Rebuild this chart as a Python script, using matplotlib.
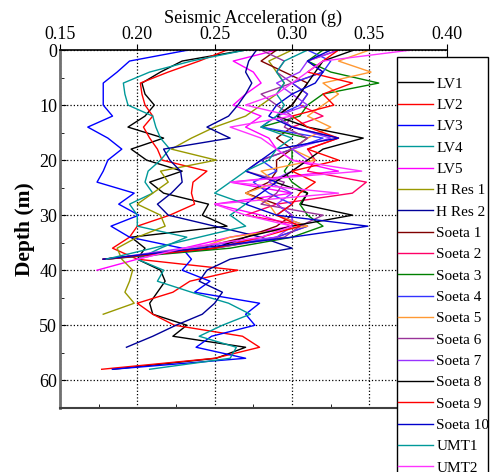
import matplotlib
matplotlib.use("Agg")
import matplotlib.pyplot as plt
from matplotlib.patches import Rectangle
from matplotlib.ticker import MultipleLocator

plt.rcParams['font.family'] = ['Liberation Serif', 'DejaVu Serif']

# depth profiles (m) and seismic acceleration (g) for each borehole
depth_long = list(range(0, 60, 2))      # 0 .. 58
depth_hres1 = list(range(0, 50, 2))     # 0 .. 48
depth_hres2 = list(range(0, 56, 2))     # 0 .. 54
depth_short = list(range(0, 40, 2))     # 0 .. 38
depth_lv5 = list(range(0, 42, 2))       # 0 .. 40

lv1 = [0.270, 0.229, 0.215, 0.203, 0.205, 0.211, 0.205, 0.194, 0.217, 0.196,
       0.206, 0.229, 0.208, 0.217, 0.246, 0.242, 0.258, 0.196, 0.205, 0.200,
       0.215, 0.218, 0.213, 0.208, 0.210, 0.232, 0.223, 0.270, 0.251, 0.184]
lv2 = [0.258, 0.240, 0.220, 0.202, 0.203, 0.205, 0.210, 0.204, 0.208, 0.213,
       0.216, 0.245, 0.236, 0.235, 0.237, 0.221, 0.200, 0.195, 0.184, 0.200,
       0.265, 0.234, 0.223, 0.200, 0.210, 0.224, 0.268, 0.279, 0.250, 0.177]
lv3 = [0.233, 0.195, 0.187, 0.178, 0.178, 0.178, 0.184, 0.168, 0.181, 0.190,
       0.181, 0.178, 0.174, 0.198, 0.188, 0.201, 0.183, 0.195, 0.229, 0.235,
       0.229, 0.247, 0.237, 0.279, 0.270, 0.276, 0.248, 0.238, 0.270, 0.184]
lv4 = [0.270, 0.235, 0.208, 0.191, 0.192, 0.194, 0.210, 0.212, 0.215, 0.221,
       0.215, 0.207, 0.205, 0.210, 0.195, 0.200, 0.200, 0.232, 0.215, 0.200,
       0.217, 0.213, 0.235, 0.259, 0.273, 0.255, 0.240, 0.264, 0.260, 0.208]
lv5 = [0.290, 0.262, 0.275, 0.280, 0.270, 0.262, 0.280, 0.270, 0.285, 0.290,
       0.300, 0.330, 0.260, 0.300, 0.250, 0.280, 0.300, 0.260, 0.230, 0.200,
       0.174]
hres1 = [0.300, 0.285, 0.290, 0.295, 0.290, 0.280, 0.270, 0.250, 0.235, 0.222,
         0.251, 0.215, 0.220, 0.210, 0.200, 0.215, 0.218, 0.200, 0.187, 0.190,
         0.197, 0.195, 0.192, 0.198, 0.178]
hres2 = [0.277, 0.272, 0.270, 0.274, 0.270, 0.265, 0.259, 0.245, 0.260, 0.217,
         0.221, 0.228, 0.229, 0.222, 0.213, 0.220, 0.250, 0.280, 0.300, 0.260,
         0.245, 0.240, 0.255, 0.250, 0.242, 0.225, 0.210, 0.193]
soeta1 = [0.290, 0.280, 0.295, 0.310, 0.305, 0.300, 0.290, 0.300, 0.290, 0.300,
          0.290, 0.290, 0.285, 0.270, 0.290, 0.300, 0.290, 0.270, 0.240, 0.180]
soeta2 = [0.330, 0.310, 0.320, 0.300, 0.310, 0.305, 0.320, 0.300, 0.330, 0.310,
          0.315, 0.310, 0.348, 0.339, 0.290, 0.270, 0.310, 0.290, 0.250, 0.180]
soeta3 = [0.320, 0.310, 0.325, 0.356, 0.320, 0.310, 0.305, 0.280, 0.310, 0.300,
          0.300, 0.295, 0.300, 0.310, 0.305, 0.310, 0.320, 0.300, 0.260, 0.180]
soeta4 = [0.310, 0.325, 0.320, 0.300, 0.310, 0.305, 0.290, 0.280, 0.320, 0.300,
          0.280, 0.290, 0.275, 0.285, 0.300, 0.290, 0.310, 0.290, 0.250, 0.178]
soeta5 = [0.350, 0.330, 0.351, 0.320, 0.330, 0.320, 0.310, 0.325, 0.310, 0.300,
          0.315, 0.280, 0.290, 0.270, 0.285, 0.290, 0.310, 0.260, 0.240, 0.180]
soeta6 = [0.280, 0.295, 0.290, 0.300, 0.280, 0.290, 0.300, 0.295, 0.310, 0.300,
          0.280, 0.270, 0.295, 0.290, 0.280, 0.320, 0.305, 0.295, 0.250, 0.180]
soeta7 = [0.330, 0.310, 0.305, 0.290, 0.300, 0.310, 0.290, 0.300, 0.325, 0.300,
          0.310, 0.300, 0.285, 0.300, 0.290, 0.300, 0.300, 0.290, 0.230, 0.180]
soeta8 = [0.340, 0.320, 0.315, 0.310, 0.305, 0.300, 0.290, 0.310, 0.346, 0.320,
          0.310, 0.300, 0.289, 0.310, 0.306, 0.339, 0.300, 0.270, 0.250, 0.178]
soeta9 = [0.330, 0.320, 0.310, 0.339, 0.320, 0.327, 0.300, 0.310, 0.330, 0.310,
          0.330, 0.300, 0.315, 0.305, 0.300, 0.290, 0.305, 0.280, 0.250, 0.178]
soeta10 = [0.325, 0.310, 0.320, 0.315, 0.300, 0.290, 0.285, 0.300, 0.330, 0.290,
           0.280, 0.270, 0.290, 0.280, 0.270, 0.290, 0.349, 0.300, 0.240, 0.178]
umt1 = [0.310, 0.295, 0.290, 0.295, 0.290, 0.295, 0.290, 0.280, 0.300, 0.290,
        0.285, 0.270, 0.260, 0.250, 0.270, 0.260, 0.270, 0.240, 0.210, 0.180]
umt2 = [0.377, 0.320, 0.310, 0.300, 0.290, 0.270, 0.300, 0.260, 0.280, 0.290,
        0.300, 0.345, 0.260, 0.330, 0.250, 0.270, 0.300, 0.280, 0.230, 0.200]

names = ['LV1', 'LV2', 'LV3', 'LV4', 'LV5', 'H Res 1', 'H Res 2',
         'Soeta 1', 'Soeta 2', 'Soeta 3', 'Soeta 4', 'Soeta 5', 'Soeta 6',
         'Soeta 7', 'Soeta 8', 'Soeta 9', 'Soeta 10', 'UMT1', 'UMT2']
values = [lv1, lv2, lv3, lv4, lv5, hres1, hres2,
          soeta1, soeta2, soeta3, soeta4, soeta5, soeta6,
          soeta7, soeta8, soeta9, soeta10, umt1, umt2]
depths = [depth_long, depth_long, depth_long, depth_long, depth_lv5,
          depth_hres1, depth_hres2] + [depth_short] * 12
colors = ['black', '#ff0000', '#0000ff', '#009999', '#ff00ff', '#999900',
          '#000099', '#800000', '#ff0066', '#008000', '#3333ff', '#ff9933',
          '#993399', '#9933ff', 'black', '#ff0000', '#0000cc', '#009999',
          '#ff33ff']

fig = plt.figure(figsize=(4.91, 4.72), dpi=100)
ax = fig.add_axes([0.122, 0.136, 0.788, 0.758])

for name, x, d, c in zip(names, values, depths, colors):
    ax.plot(x, d, color=c, lw=1.0, label=name)

ax.set_xlim(0.15, 0.40)
ax.set_ylim(65, 0)
ax.xaxis.set_minor_locator(MultipleLocator(0.025))
ax.yaxis.set_major_locator(MultipleLocator(10))
ax.yaxis.set_minor_locator(MultipleLocator(5))
ax.set_xticks([0.15, 0.20, 0.25, 0.30, 0.35, 0.40])
ax.set_xticklabels(['0.15', '0.20', '0.25', '0.30', '0.35', '0.40'])

ax.xaxis.tick_top()
ax.xaxis.set_label_position('top')
ax.tick_params(axis='x', which='major', top=True, bottom=False, direction='out',
               labelsize=13, pad=1, length=4)
ax.tick_params(axis='x', which='minor', top=False, bottom=True, direction='in',
               length=3)
ax.tick_params(axis='y', which='major', direction='in', labelsize=13, length=4, pad=2)
ax.tick_params(axis='y', which='minor', direction='in', length=3)

ax.set_xlabel('Seismic Acceleration (g)', fontsize=13, labelpad=2)
ax.set_ylabel('Depth (m)', fontsize=15.5, fontweight='bold', labelpad=3)

ax.grid(True, which='major', color='black', linestyle=':', linewidth=0.9)
ax.spines['left'].set_color('#707070')
ax.spines['left'].set_linewidth(2)
ax.spines['bottom'].set_color('#404040')
ax.spines['bottom'].set_linewidth(1.5)
ax.spines['top'].set_linewidth(1.2)

# legend box runs off the bottom of the figure
fig.patches.append(Rectangle((397 / 491, -0.2), 91 / 491, 1.2 - 57 / 472,
                             transform=fig.transFigure, facecolor='white',
                             edgecolor='black', linewidth=1.0, zorder=5))
leg = fig.legend(loc='upper left', bbox_to_anchor=(398 / 491, 1 - 77 / 472),
                 fontsize=11, frameon=False,
                 handlelength=2.3, handletextpad=0.2, labelspacing=0.5,
                 borderpad=0, borderaxespad=0)
leg.set_zorder(6)

fig.savefig('out.png', dpi=100)
